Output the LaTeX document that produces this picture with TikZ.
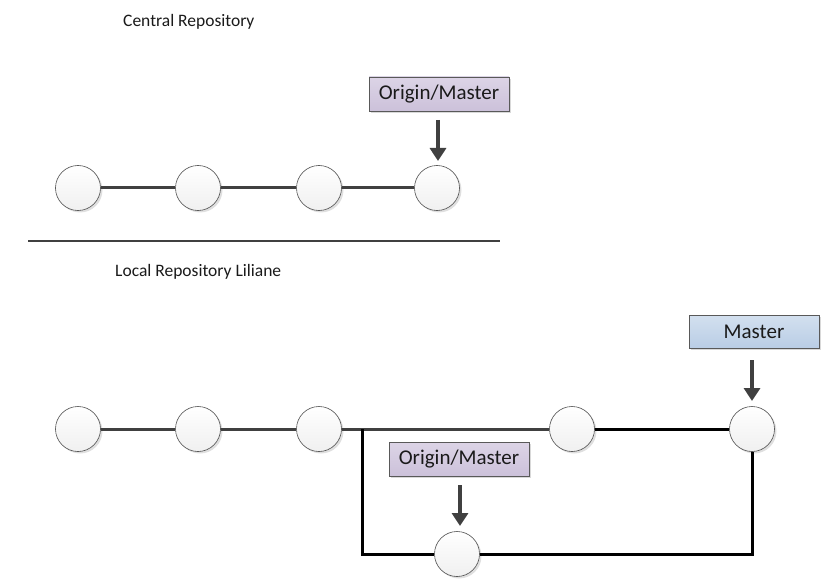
\documentclass[tikz,border=0pt]{standalone}
\usepackage{fontspec}
\setmainfont{Carlito}
\usetikzlibrary{shadows,arrows.meta}
\definecolor{lav}{HTML}{CCC1DA}
\definecolor{lavtop}{HTML}{DCD4E6}
\definecolor{sky}{HTML}{B9CDE5}
\definecolor{skytop}{HTML}{D3E0EF}
\definecolor{darkline}{HTML}{404040}
\definecolor{txt}{HTML}{1A1A1A}
\tikzset{
  commit/.style={circle, draw=black!70, line width=0.6pt, minimum size=45pt, inner sep=0pt,
    top color=white, bottom color=black!6, drop shadow={shadow xshift=2pt, shadow yshift=-2pt, opacity=0.25}},
  tagbox/.style={draw=black!65, line width=0.6pt, inner sep=0pt, text=txt, font=\fontsize{21}{24}\selectfont,
    drop shadow={shadow xshift=2pt, shadow yshift=-2pt, opacity=0.3}},
  origin/.style={tagbox, top color=lavtop, bottom color=lav, minimum width=140pt, minimum height=34pt},
  master/.style={tagbox, top color=skytop, bottom color=sky, minimum width=130pt, minimum height=33pt},
  pointer/.style={-{Triangle[length=13pt,width=16pt]}, line width=4pt, draw=darkline},
  histline/.style={line width=3pt, draw=darkline},
  newline/.style={line width=3pt, draw=black},
  caption/.style={font=\fontsize{17.5}{20}\selectfont, text=txt, anchor=west, inner sep=0pt},
}
\begin{document}
\begin{tikzpicture}[x=1pt,y=-1pt]
\useasboundingbox (0,0) rectangle (834,585);
% captions
\node[caption] (central) at (123,22) {Central Repository};
\node[caption] (local) at (115,272) {Local Repository Liliane};
\draw[line width=1.5pt, draw=darkline] (28,241) -- (500,241);
% central repository
\node[commit] (t1) at (78,188) {};
\node[commit] (t2) at (198,188) {};
\node[commit] (t3) at (319,188) {};
\node[commit] (t4) at (437,188) {};
\draw[histline] (t1) -- (t2);
\draw[histline] (t2) -- (t3);
\draw[histline] (t3) -- (t4);
\node[origin] (to) at (439,94) {Origin/Master};
\coordinate (ta1) at (438,120);
\coordinate (ta2) at (438,161);
\draw[pointer] (ta1) -- (ta2);
% local repository
\node[commit] (l1) at (78,429) {};
\node[commit] (l2) at (198,429) {};
\node[commit] (l3) at (319,429) {};
\node[commit] (l4) at (572,429) {};
\node[commit] (l5) at (752,429) {};
\node[commit] (lb) at (457,554) {};
\draw[histline] (l1) -- (l2);
\draw[histline] (l2) -- (l3);
\draw[histline] (l3) -- (l4);
\draw[newline] (l4) -- (l5);
\coordinate (br) at (362,429);
\draw[newline] (br) |- (lb);
\draw[newline] (lb) -| (l5);
\node[master] (lm) at (754,331.5) {Master};
\coordinate (ma1) at (752,360);
\coordinate (ma2) at (752,401);
\draw[pointer] (ma1) -- (ma2);
\node[origin] (lo) at (459,459) {Origin/Master};
\coordinate (oa1) at (460,485);
\coordinate (oa2) at (460,526);
\draw[pointer] (oa1) -- (oa2);
\end{tikzpicture}
\end{document}
